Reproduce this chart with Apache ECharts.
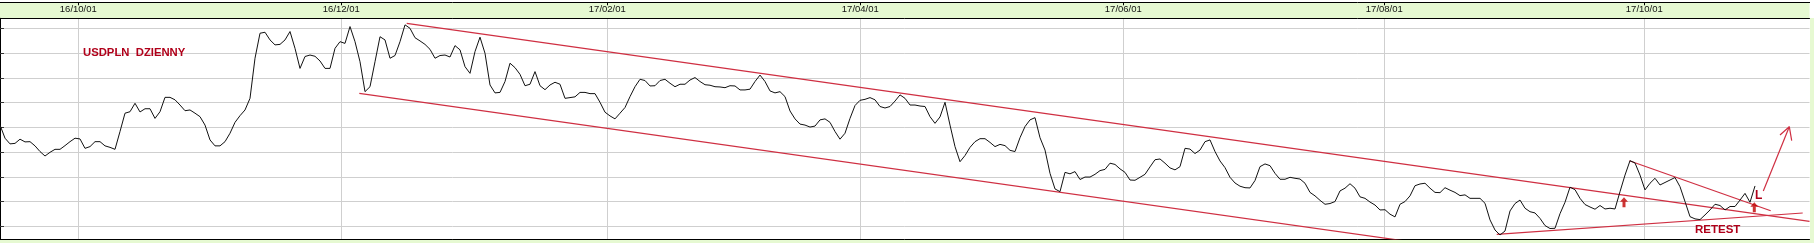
<!DOCTYPE html>
<html><head><meta charset="utf-8">
<script src="https://cdn.jsdelivr.net/npm/echarts@6/dist/echarts.min.js"></script>
<style>html,body{margin:0;padding:0;background:#fff}#c{width:1814px;height:243px}</style>
</head><body><div id="c"></div>
<script>
// USDPLN daily close, one value per session (index = session number)
const values = [
3.809,3.756,3.733,3.735,3.752,3.741,3.742,3.725,3.702,3.684,
3.699,3.711,3.711,3.726,3.742,3.756,3.753,3.715,3.722,3.742,
3.742,3.725,3.719,3.711,3.783,3.857,3.863,3.897,3.862,3.875,
3.875,3.836,3.863,3.921,3.921,3.911,3.890,3.867,3.870,3.857,
3.843,3.809,3.749,3.725,3.725,3.742,3.776,3.820,3.847,3.870,
3.917,4.079,4.180,4.184,4.153,4.133,4.135,4.153,4.187,4.119,
4.038,4.086,4.092,4.087,4.068,4.038,4.038,4.119,4.146,4.139,
4.207,4.146,4.065,3.944,3.964,4.065,4.166,4.153,4.079,4.090,
4.146,4.214,4.200,4.162,4.149,4.135,4.115,4.079,4.090,4.092,
4.084,4.130,4.113,4.045,4.018,4.106,4.164,4.099,3.971,3.939,
3.941,3.985,4.059,4.041,4.014,3.968,3.974,4.025,3.968,3.952,
3.971,3.982,3.974,3.917,3.920,3.923,3.941,3.941,3.936,3.936,
3.901,3.861,3.846,3.834,3.857,3.880,3.924,3.964,3.994,3.989,
3.967,3.968,3.989,3.994,3.978,3.964,3.974,3.974,3.991,4.001,
3.985,3.972,3.970,3.964,3.963,3.960,3.968,3.967,3.951,3.951,
3.954,3.985,4.011,3.985,3.947,3.939,3.944,3.924,3.866,3.834,
3.813,3.809,3.801,3.805,3.830,3.834,3.820,3.783,3.752,3.776,
3.836,3.888,3.909,3.913,3.920,3.911,3.884,3.878,3.884,3.906,
3.931,3.917,3.890,3.890,3.886,3.884,3.843,3.816,3.842,3.901,
3.809,3.722,3.661,3.686,3.719,3.742,3.754,3.754,3.739,3.722,
3.731,3.726,3.707,3.702,3.758,3.803,3.830,3.839,3.758,3.708,
3.614,3.551,3.540,3.618,3.612,3.621,3.589,3.599,3.599,3.610,
3.625,3.630,3.655,3.650,3.632,3.618,3.587,3.586,3.598,3.610,
3.640,3.669,3.672,3.655,3.636,3.628,3.641,3.715,3.712,3.694,
3.708,3.742,3.749,3.702,3.664,3.637,3.598,3.575,3.562,3.556,
3.555,3.585,3.641,3.652,3.645,3.614,3.590,3.590,3.598,3.594,
3.591,3.574,3.537,3.523,3.505,3.489,3.492,3.500,3.543,3.554,
3.572,3.554,3.519,3.513,3.498,3.486,3.466,3.467,3.449,3.438,
3.489,3.500,3.523,3.564,3.571,3.574,3.554,3.537,3.536,3.556,
3.546,3.537,3.524,3.527,3.513,3.513,3.513,3.493,3.426,3.385,
3.365,3.381,3.462,3.492,3.506,3.473,3.459,3.454,3.432,3.403,
3.391,3.392,3.451,3.497,3.558,3.548,3.513,3.488,3.478,3.469,
3.484,3.470,3.473,3.470,3.540,3.607,3.665,3.656,3.607,3.547,
3.574,3.594,3.567,3.577,3.587,3.597,3.560,3.500,3.439,3.430,
3.427,3.446,3.466,3.489,3.484,3.466,3.480,3.480,3.506,3.533,
3.497,3.563
];
const tickPos = [15.66, 68.26, 121.46, 172.06, 224.66, 276.86, 328.86];
const tickLabels = ['16/10/01','16/12/01','17/02/01','17/04/01','17/06/01','17/08/01','17/10/01'];
const priceTicks = [3.4,3.5,3.6,3.7,3.8,3.9,4.0,4.1,4.2];
const xRange = [0, 361.9];
const yRange = [3.3487, 4.2404];

// hand-drawn annotations (session index, price)
const channelUpper = [[81.34,4.2202],[361.9,3.4198]];
const channelLower = [[71.86,3.9374],[284,3.3321]];
const supportRising = [[299.34,3.3677],[360.54,3.4537]];
const wedgeTop = [[325.86,3.665],[354.14,3.463]];
const targetArrow = [[352.66,3.5426],[357.86,3.8024]];
const targetHead = [[356.0,3.7689],[357.86,3.8024],[358.34,3.7459]];
const signalArrows = [[324.8,3.4974],[350.86,3.4772]];

const RED = '#cf2f42';
const TXT_RED = '#b0001a';
const chart = echarts.init(document.getElementById('c'), null, {renderer:'canvas'});
const redLine = (d) => ({type:'line', xAxisIndex:0, data:d, symbol:'none', lineStyle:{color:RED, width:1.2}, z:3, silent:true});
const labelFmt = (v)=>{let b=0;for(let i=1;i<tickPos.length;i++){if(Math.abs(tickPos[i]-v)<Math.abs(tickPos[b]-v))b=i;}return tickLabels[b];};
chart.setOption({
  animation:false,
  grid:{left:0, right:4.5, top:18.3, bottom:4},
  xAxis:[{
    type:'value', position:'top', min:xRange[0], max:xRange[1],
    axisLine:{show:true, lineStyle:{color:'#000', width:1}},
    axisTick:{show:false, customValues:tickPos},
    axisLabel:{show:true, customValues:tickPos, margin:4, color:'#111', fontSize:9.5,
      fontFamily:'Liberation Sans, Arial, sans-serif', formatter:labelFmt},
    splitLine:{show:true, lineStyle:{color:'#cfcfcf', width:1}}
  },{
    type:'value', position:'bottom', min:xRange[0], max:xRange[1],
    axisLine:{show:true, lineStyle:{color:'#000', width:1}},
    axisTick:{show:false}, axisLabel:{show:false}, splitLine:{show:false}
  },{
    type:'value', position:'top', offset:16, min:xRange[0], max:xRange[1],
    axisLine:{show:false},
    axisTick:{show:true, customValues:tickPos, inside:true, length:3, lineStyle:{color:'#000'}},
    axisLabel:{show:false}, splitLine:{show:false}
  }],
  yAxis:{
    type:'value', position:'right', min:yRange[0], max:yRange[1],
    axisLine:{show:true, lineStyle:{color:'#000', width:1}},
    axisTick:{show:true, customValues:priceTicks, length:4, inside:false, lineStyle:{color:'#333'}},
    axisLabel:{show:false},
    splitLine:{show:true, lineStyle:{color:'#cfcfcf', width:1}}
  },
  graphic:[
    {type:'rect', shape:{x:0, y:2, width:1809.5, height:16.3}, style:{fill:'#e6f9d2'}, z:-1, silent:true},
    {type:'line', shape:{x1:0, y1:2.5, x2:1810, y2:2.5}, style:{stroke:'#000', lineWidth:1}, silent:true},
    {type:'rect', shape:{x:1810, y:18, width:4, height:225}, style:{fill:'#e6f9d2'}, z:-1, silent:true},
    {type:'rect', shape:{x:0, y:239.5, width:1814, height:4}, style:{fill:'#e6f9d2'}, z:-1, silent:true},
    {type:'text', style:{x:83, y:52.7, text:'USDPLN  DZIENNY', fill:TXT_RED, font:'bold 11.3px "Liberation Sans", Arial, sans-serif', verticalAlign:'middle'}, z:10, silent:true},
    {type:'text', style:{x:1695, y:229.5, text:'RETEST', fill:TXT_RED, font:'bold 11.5px "Liberation Sans", Arial, sans-serif', verticalAlign:'middle'}, z:10, silent:true},
    {type:'text', style:{x:1755, y:196, text:'L', fill:TXT_RED, font:'bold 12px "Liberation Sans", Arial, sans-serif', verticalAlign:'middle'}, z:10, silent:true}
  ],
  series:[
    {type:'line', xAxisIndex:0, data:values.map((v,i)=>[i,v]), symbol:'none', lineStyle:{color:'#111', width:1}, z:4, silent:true},
    redLine(channelUpper),
    redLine(channelLower),
    redLine(supportRising),
    redLine(wedgeTop),
    redLine(targetArrow),
    redLine(targetHead),
    {type:'scatter', xAxisIndex:0, data:signalArrows, symbol:'path://M4,0 L8,4.5 L5.5,4.5 L5.5,10 L2.5,10 L2.5,4.5 L0,4.5 Z', symbolSize:[8,10], itemStyle:{color:'#c00000'}, z:6, silent:true}
  ]
});
</script></body></html>
